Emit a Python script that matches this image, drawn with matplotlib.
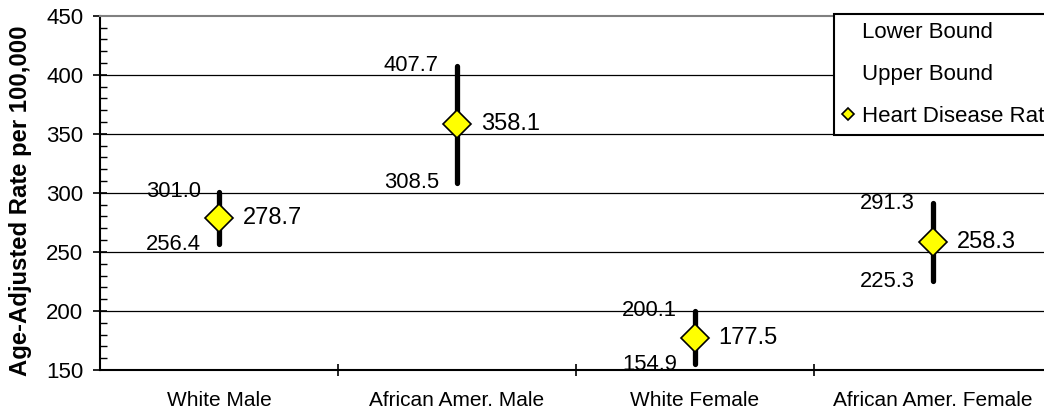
import numpy as np
import matplotlib
matplotlib.use('Agg')
import matplotlib.pyplot as plt
from matplotlib.ticker import MultipleLocator, FixedLocator, NullFormatter

# dados do grafico
categorias = ['White Male', 'African Amer. Male', 'White Female', 'African Amer. Female']
limite_inferior = [256.4, 308.5, 154.9, 225.3]
limite_superior = [301.0, 407.7, 200.1, 291.3]
taxa = [278.7, 358.1, 177.5, 258.3]

plt.rcParams['font.family'] = ['Liberation Sans', 'DejaVu Sans']

fig = plt.figure(figsize=(10.44, 4.16), dpi=100)
W, H = 1044, 416
# eixo vai alem da borda direita da figura (como no original, cortado)
ax = fig.add_axes([100 / W, 46 / H, 952 / W, (370 - 15.7) / H])

x = np.arange(len(categorias))

# linhas de grade
for v in [200, 250, 300, 350, 400]:
    ax.axhline(v, color='black', lw=0.9, zorder=1)

# barras entre limite inferior e superior
for i in x:
    ax.plot([i, i], [limite_inferior[i], limite_superior[i]], color='black',
            lw=3.8, solid_capstyle='round', zorder=3)

# series para a legenda (sem marcador)
ax.plot(x, limite_inferior, linestyle='none', label='Lower Bound')
ax.plot(x, limite_superior, linestyle='none', label='Upper Bound')
ax.plot(x, taxa, linestyle='none', marker='D', markersize=14, markerfacecolor='#FFFF00',
        markeredgecolor='black', markeredgewidth=1.2, zorder=4, label='Heart Disease Rate')

# rotulos
for i in x:
    ax.annotate(f'{limite_superior[i]:.1f}', (i, limite_superior[i]), xytext=(-13, 0),
                textcoords='offset points', ha='right', va='center', fontsize=15.8)
    ax.annotate(f'{limite_inferior[i]:.1f}', (i, limite_inferior[i]), xytext=(-13, 0),
                textcoords='offset points', ha='right', va='center', fontsize=15.8)
    ax.annotate(f'{taxa[i]:.1f}', (i, taxa[i]), xytext=(17, 0),
                textcoords='offset points', ha='left', va='center', fontsize=17)

ax.set_xlim(-0.5, 3.5)
ax.set_ylim(150, 450)

ax.set_xticks(x)
ax.set_xticklabels(categorias, fontsize=15)
ax.tick_params(axis='x', which='major', length=0, pad=15)
ax.xaxis.set_minor_locator(FixedLocator([0.5, 1.5, 2.5]))
ax.xaxis.set_minor_formatter(NullFormatter())
ax.tick_params(axis='x', which='minor', direction='inout', length=8, width=1.2)

ax.set_yticks(np.arange(150, 451, 50))
ax.yaxis.set_minor_locator(MultipleLocator(10))
ax.tick_params(axis='y', which='major', direction='inout', length=10, width=1.2,
               labelsize=16, pad=7)
ax.tick_params(axis='y', which='minor', direction='in', length=5, width=1)

ax.spines['left'].set_linewidth(1.5)
ax.spines['bottom'].set_linewidth(1.5)
ax.spines['top'].set_color('#808080')
ax.spines['top'].set_linewidth(1.5)
ax.spines['right'].set_visible(False)

fig.text(21 / W, 1 - 201 / H, 'Age-Adjusted Rate per 100,000', rotation=90,
         ha='center', va='center', fontsize=17.2, fontweight='bold')

leg = ax.legend(loc='upper left', bbox_to_anchor=(834 / W, 1 - 14 / H),
                bbox_transform=fig.transFigure, borderaxespad=0, fontsize=16,
                fancybox=False, framealpha=1, edgecolor='black',
                handlelength=0.6, handletextpad=0.3, labelspacing=0.95, borderpad=0.35,
                markerscale=0.45)
leg.get_frame().set_linewidth(1.5)

fig.savefig('out.png', dpi=100)
